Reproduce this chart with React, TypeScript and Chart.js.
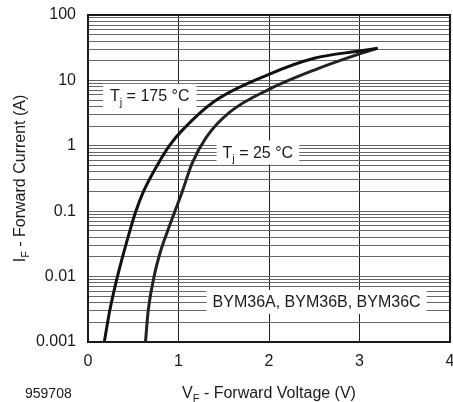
import React, { useEffect, useRef } from "react";
import { Chart, registerables } from "chart.js";

Chart.register(...registerables);

// Forward voltage (V) / forward current (A)
const vf175 = [0.18, 0.24, 0.325, 0.464, 0.527, 0.611, 0.777, 0.906, 1.04, 1.39, 2.0, 2.5, 3.0, 3.2];
const if175 = [0.001, 0.003, 0.01, 0.051, 0.098, 0.197, 0.538, 1.03, 1.72, 4.72, 12.4, 21.8, 28.2, 31];
const vf25 = [0.635, 0.665, 0.73, 0.8, 0.88, 0.958, 1.04, 1.15, 1.31, 1.57, 2.0, 2.5, 3.0, 3.2];
const if25 = [0.001, 0.003, 0.01, 0.024, 0.05, 0.098, 0.197, 0.538, 1.37, 3.3, 7.3, 14.4, 25.4, 31];

const xTicks = [0, 1, 2, 3, 4];
const yDecades = [0.001, 0.01, 0.1, 1, 10, 100];
const yDecadeLabels = ["0.001", "0.01", "0.1", "1", "10", "100"];
const minorMultipliers = [1, 2, 3, 4, 5, 6, 7, 8, 9];

const FONT = '"Liberation Sans", Arial, Helvetica, sans-serif';

type Part = { t: string; sub?: boolean };

function richWidth(ctx: CanvasRenderingContext2D, parts: Part[], size: number) {
  let w = 0;
  for (const p of parts) {
    ctx.font = `${p.sub ? Math.round(size * 0.7) : size}px ${FONT}`;
    w += ctx.measureText(p.t).width;
  }
  return w;
}

function drawRich(ctx: CanvasRenderingContext2D, parts: Part[], x: number, y: number, size: number) {
  let cx = x;
  ctx.textBaseline = "alphabetic";
  ctx.textAlign = "left";
  for (const p of parts) {
    ctx.font = `${p.sub ? Math.round(size * 0.7) : size}px ${FONT}`;
    ctx.fillText(p.t, cx, y + (p.sub ? size * 0.28 : 0));
    cx += ctx.measureText(p.t).width;
  }
}

const curveLabels: { parts: Part[]; x: number; y: number; pad: number }[] = [
  { parts: [{ t: "T" }, { t: "j", sub: true }, { t: " = 175 °C" }], x: 0.165, y: 5.8, pad: 7 },
  { parts: [{ t: "T" }, { t: "j", sub: true }, { t: " = 25 °C" }], x: 1.42, y: 0.79, pad: 6 },
  { parts: [{ t: "BYM36A, BYM36B, BYM36C" }], x: 1.31, y: 0.0041, pad: 6 },
];

const labelPlugin = {
  id: "labelBoxes",
  beforeDatasetsDraw(chart: any) {
    const ctx = chart.ctx as CanvasRenderingContext2D;
    const xs = chart.scales.x;
    const ys = chart.scales.y;
    ctx.save();
    for (const l of curveLabels) {
      const px = xs.getPixelForValue(l.x);
      const py = ys.getPixelForValue(l.y);
      const w = richWidth(ctx, l.parts, 16) + 2 * l.pad;
      ctx.fillStyle = "#fff";
      ctx.fillRect(px, py - 12, w, 24);
      ctx.fillStyle = "#1a1a1a";
      drawRich(ctx, l.parts, px + l.pad, py + 5.5, 16);
    }
    ctx.restore();
  },
  afterDatasetsDraw(chart: any) {
    const ctx = chart.ctx as CanvasRenderingContext2D;
    const a = chart.chartArea;
    ctx.save();
    ctx.strokeStyle = "#1a1a1a";
    ctx.lineWidth = 2;
    ctx.strokeRect(a.left, a.top, a.right - a.left, a.bottom - a.top);
    ctx.restore();
  },
  afterDraw(chart: any) {
    const ctx = chart.ctx as CanvasRenderingContext2D;
    const a = chart.chartArea;
    ctx.save();
    ctx.fillStyle = "#1a1a1a";
    const xParts: Part[] = [{ t: "V" }, { t: "F", sub: true }, { t: " - Forward Voltage (V)" }];
    const xw = richWidth(ctx, xParts, 16);
    drawRich(ctx, xParts, (a.left + a.right) / 2 - xw / 2, 398, 16);
    const yParts: Part[] = [{ t: "I" }, { t: "F", sub: true }, { t: " - Forward Current (A)" }];
    const yw = richWidth(ctx, yParts, 16);
    ctx.translate(25, (a.top + a.bottom) / 2);
    ctx.rotate(-Math.PI / 2);
    drawRich(ctx, yParts, -yw / 2, 0, 16);
    ctx.restore();
    ctx.save();
    ctx.fillStyle = "#1a1a1a";
    ctx.font = `14px ${FONT}`;
    ctx.textAlign = "left";
    ctx.textBaseline = "alphabetic";
    ctx.fillText("959708", 25, 398);
    ctx.restore();
  },
};

export default function App() {
  const ref = useRef<HTMLCanvasElement | null>(null);
  useEffect(() => {
    if (!ref.current) return;
    const yTickValues: number[] = [];
    for (let i = 0; i < yDecades.length - 1; i++) {
      for (const m of minorMultipliers) yTickValues.push(m * yDecades[i]);
    }
    yTickValues.push(yDecades[yDecades.length - 1]);
    const isDecade = (v: number) => yDecades.findIndex((d) => Math.abs(Math.log10(v) - Math.log10(d)) < 1e-6);

    const chart = new Chart(ref.current, {
      type: "line",
      data: {
        datasets: [
          {
            label: "Tj = 175 °C",
            data: vf175.map((v, i) => ({ x: v, y: if175[i] })),
            borderColor: "#111",
            borderWidth: 3,
            pointRadius: 0,
            fill: false,
            cubicInterpolationMode: "monotone",
          },
          {
            label: "Tj = 25 °C",
            data: vf25.map((v, i) => ({ x: v, y: if25[i] })),
            borderColor: "#222",
            borderWidth: 3,
            pointRadius: 0,
            fill: false,
            cubicInterpolationMode: "monotone",
          },
        ],
      },
      options: {
        animation: false,
        responsive: true,
        maintainAspectRatio: false,
        layout: { padding: { top: 15, right: 3, left: 0, bottom: 0 } },
        plugins: { legend: { display: false }, tooltip: { enabled: false } },
        scales: {
          x: {
            type: "linear",
            min: 0,
            max: 4,
            afterBuildTicks: (s: any) => {
              s.ticks = xTicks.map((v) => ({ value: v }));
            },
            afterFit: (s: any) => {
              s.height = 60;
              s.paddingLeft = 0;
              s.paddingRight = 0;
            },
            grid: { color: "#222", lineWidth: 1, drawTicks: false },
            border: { display: false },
            ticks: {
              autoSkip: false,
              maxRotation: 0,
              padding: 10,
              color: "#1a1a1a",
              font: { family: FONT, size: 16 },
              callback: (v: any) => String(v),
            },
          },
          y: {
            type: "logarithmic",
            min: 0.001,
            max: 100,
            afterBuildTicks: (s: any) => {
              s.ticks = yTickValues.map((v) => ({ value: v }));
            },
            afterFit: (s: any) => {
              s.width = 88;
              s.paddingTop = 0;
              s.paddingBottom = 0;
            },
            grid: { color: "#666", lineWidth: 1, drawTicks: false },
            border: { display: false },
            ticks: {
              autoSkip: false,
              padding: 12,
              color: "#1a1a1a",
              font: { family: FONT, size: 16 },
              callback: (v: any) => {
                const i = isDecade(Number(v));
                return i >= 0 ? yDecadeLabels[i] : "";
              },
            },
          },
        },
      },
      plugins: [labelPlugin],
    } as any);
    return () => chart.destroy();
  }, []);

  return (
    <div style={{ position: "absolute", left: 0, top: 0, width: 453, height: 402, background: "#fff" }}>
      <canvas ref={ref} />
    </div>
  );
}
